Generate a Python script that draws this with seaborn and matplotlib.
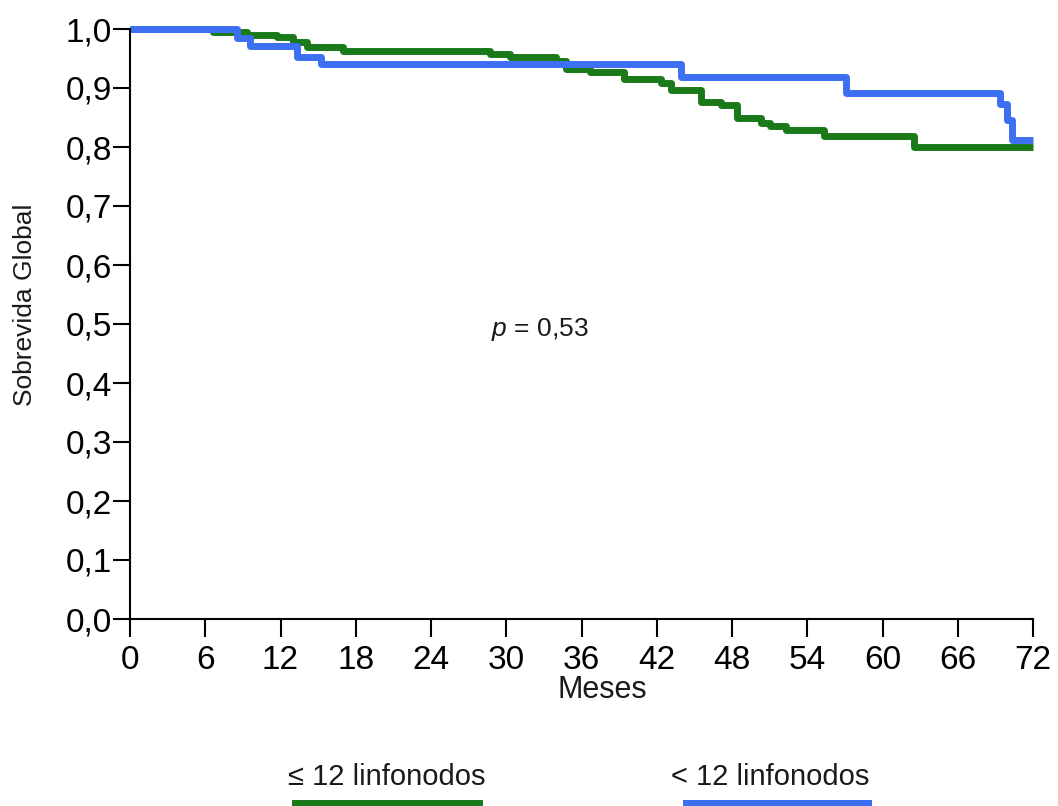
import pandas as pd
import seaborn as sns
import matplotlib.pyplot as plt
from matplotlib.patches import Rectangle
from matplotlib.ticker import FuncFormatter

sns.set_theme(style="ticks")
plt.rcParams['font.family'] = ['Liberation Sans', 'DejaVu Sans']
plt.rcParams['mathtext.fontset'] = 'custom'
plt.rcParams['mathtext.it'] = 'Liberation Sans:italic'
plt.rcParams['mathtext.rm'] = 'Liberation Sans'

# grupos y colores
GRUPOS = ['≤ 12 linfonodos', '< 12 linfonodos']
COLORES = ['#1a7a1a', '#3d6ff2']

# curva ≤ 12 linfonodos (meses, sobrevida)
meses_le12 = [0, 6.6, 9.3, 11.7, 13.0, 14.1, 17.0, 28.7, 30.3, 34.0, 34.8, 36.7,
              39.4, 42.3, 43.1, 45.5, 47.1, 48.4, 50.3, 51.0, 52.3, 55.3, 62.5, 72]
sobrev_le12 = [1.0, 0.995, 0.99, 0.987, 0.978, 0.97, 0.963, 0.957, 0.953, 0.945, 0.933, 0.927,
               0.916, 0.908, 0.897, 0.877, 0.871, 0.849, 0.841, 0.836, 0.829, 0.819, 0.80, 0.80]

# curva < 12 linfonodos
meses_lt12 = [0, 8.5, 9.6, 13.3, 15.2, 43.9, 57.1, 69.4, 69.9, 70.3, 72]
sobrev_lt12 = [1.0, 0.985, 0.972, 0.953, 0.94, 0.919, 0.891, 0.873, 0.846, 0.812, 0.812]

x_ticks = list(range(0, 73, 6))
y_ticks = [0.0, 0.1, 0.2, 0.3, 0.4, 0.5, 0.6, 0.7, 0.8, 0.9, 1.0]
p_valor = '0,53'

df = pd.concat([
    pd.DataFrame({'Meses': meses_le12, 'Sobrevida': sobrev_le12, 'Grupo': GRUPOS[0]}),
    pd.DataFrame({'Meses': meses_lt12, 'Sobrevida': sobrev_lt12, 'Grupo': GRUPOS[1]}),
], ignore_index=True)

W, H = 1058, 806
fig = plt.figure(figsize=(W / 100, H / 100), dpi=100)
ax = fig.add_axes([130 / W, 1 - 619 / H, (1033 - 130) / W, (619 - 29) / H])

sns.lineplot(data=df, x='Meses', y='Sobrevida', hue='Grupo', hue_order=GRUPOS,
             palette=dict(zip(GRUPOS, COLORES)), estimator=None, sort=False,
             drawstyle='steps-post', lw=5, legend=False, ax=ax)
for line in ax.lines:
    line.set_clip_on(False)
    line.set_solid_capstyle('butt')

ax.set_xlim(0, 72)
ax.set_ylim(0, 1)
ax.set_xticks(x_ticks)
ax.set_yticks(y_ticks)
ax.yaxis.set_major_formatter(FuncFormatter(lambda v, _: f"{v:.1f}".replace('.', ',')))
sns.despine(ax=ax)
for s in ['left', 'bottom']:
    ax.spines[s].set_linewidth(1.5)
    ax.spines[s].set_color('black')
ax.tick_params(axis='x', length=13, width=1.5, pad=6, labelsize=24, colors='black')
ax.tick_params(axis='y', length=12, width=1.5, pad=1, labelsize=24, colors='black')
ax.set_xlabel('')
ax.set_ylabel('')

# etiquetas de ejes
fig.text(25 / W, 1 - 305 / H, 'Sobrevida Global', rotation=90, ha='center', va='center',
         fontsize=19, color='#1a1a1a')
fig.text(602 / W, 1 - 690 / H, 'Meses', ha='center', va='center', fontsize=22, color='#1a1a1a')

# valor p
ax.text(32.7, 0.49, r'$\it{p}$ = ' + p_valor, ha='center', va='center', fontsize=19,
        color='#1a1a1a')

# leyenda inferior
fig.text(387 / W, 1 - 777 / H, GRUPOS[0], ha='center', va='center', fontsize=21, color='#1a1a1a')
fig.text(770 / W, 1 - 777 / H, GRUPOS[1], ha='center', va='center', fontsize=21, color='#1a1a1a')
fig.add_artist(Rectangle((292 / W, 0), (483 - 292) / W, 6 / H, transform=fig.transFigure,
                         color=COLORES[0], lw=0))
fig.add_artist(Rectangle((683 / W, 0), (872 - 683) / W, 6 / H, transform=fig.transFigure,
                         color=COLORES[1], lw=0))

fig.savefig('out.png', dpi=100)
